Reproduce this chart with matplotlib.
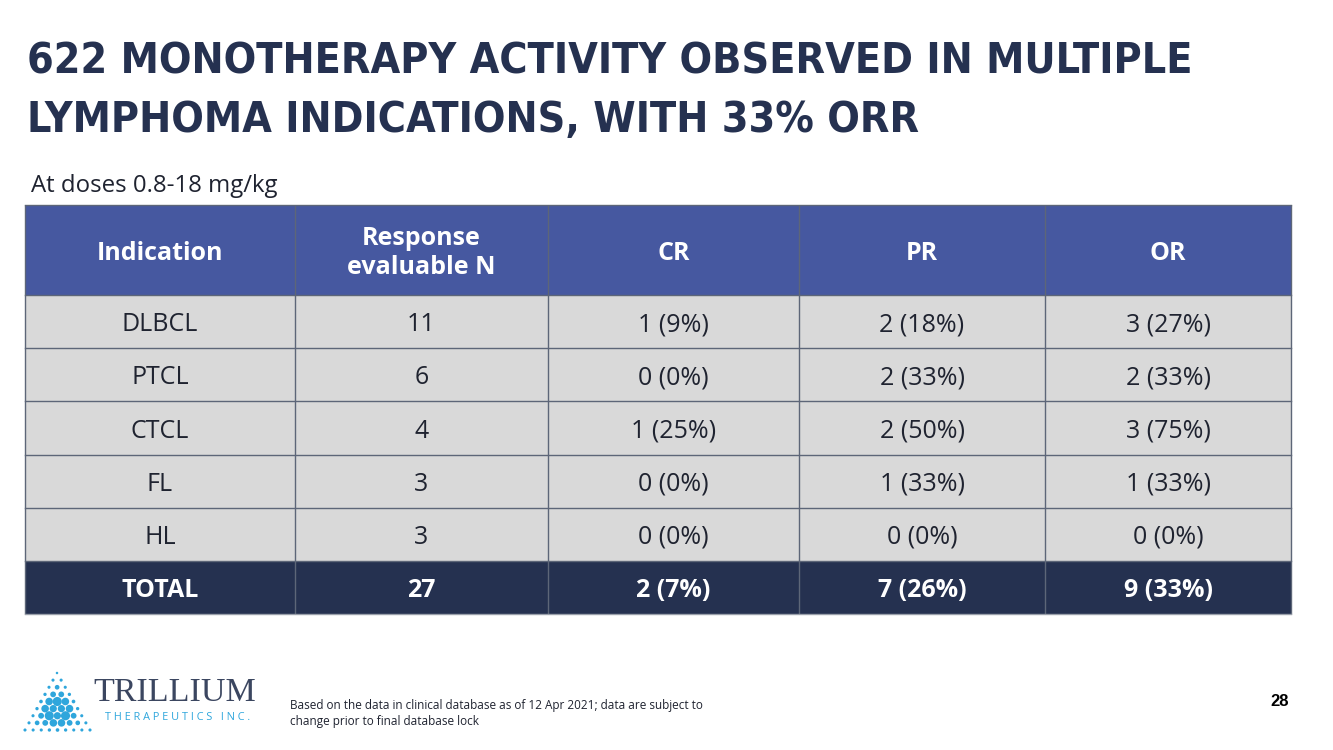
import matplotlib
matplotlib.use("Agg")
import matplotlib.pyplot as plt
from matplotlib.patches import Rectangle
import numpy as np

# ---- data ----
columns = ["Indication", "Response\nevaluable N", "CR", "PR", "OR"]
indications = ["DLBCL", "PTCL", "CTCL", "FL", "HL"]
n_eval = [11, 6, 4, 3, 3]
cr_vals = ["1 (9%)", "0 (0%)", "1 (25%)", "0 (0%)", "0 (0%)"]
pr_vals = ["2 (18%)", "2 (33%)", "2 (50%)", "1 (33%)", "0 (0%)"]
or_vals = ["3 (27%)", "2 (33%)", "3 (75%)", "1 (33%)", "0 (0%)"]
total_row = ["TOTAL", "27", "2 (7%)", "7 (26%)", "9 (33%)"]

title_lines = ["622 MONOTHERAPY ACTIVITY OBSERVED IN MULTIPLE",
               "LYMPHOMA INDICATIONS, WITH 33% ORR"]
subtitle = "At doses 0.8-18 mg/kg"
footnote = ("Based on the data in clinical database as of 12 Apr 2021; data are subject to\n"
            "change prior to final database lock")
page_no = "28"

# ---- style ----
NAVY = "#253150"
HEADER_BLUE = "#4658A0"
ROW_GREY = "#D9D9D9"
LINE = "#5d6678"
TEXT = "#1f2330"
CYAN = "#2fa6dc"
BODY_FONT = ["Open Sans", "DejaVu Sans"]
CELL_FS = 18

W, H = 1333, 750
fig = plt.figure(figsize=(W / 100, H / 100), dpi=100)
ax = fig.add_axes([0, 0, 1, 1])
ax.set_xlim(0, W)
ax.set_ylim(H, 0)
ax.axis("off")

# title
title_y = [62, 120]
for t, y in zip(title_lines, title_y):
    ax.text(27, y, t, fontsize=30.8, fontweight="heavy", color=NAVY,
            family=["DejaVu Sans"], fontstretch="condensed", va="center", ha="left")

ax.text(31, 186, subtitle, fontsize=17.3, color=TEXT, family=BODY_FONT, va="center", ha="left")

# table
col_edges = [25, 295, 548, 799, 1045, 1291]
header_top, header_bot = 205, 295
row_h = 53.2
rows = [[ind, str(n), c, p, o] for ind, n, c, p, o in zip(indications, n_eval, cr_vals, pr_vals, or_vals)]

# header
ax.add_patch(Rectangle((col_edges[0], header_top), col_edges[-1] - col_edges[0],
                       header_bot - header_top, facecolor=HEADER_BLUE, edgecolor="none"))
for j, lab in enumerate(columns):
    cx = (col_edges[j] + col_edges[j + 1]) / 2
    ax.text(cx, (header_top + header_bot) / 2 + 3, lab, fontsize=CELL_FS, fontweight="bold",
            color="white", family=BODY_FONT, ha="center", va="center", linespacing=1.22)

# body rows
y = header_bot
for r in rows:
    ax.add_patch(Rectangle((col_edges[0], y), col_edges[-1] - col_edges[0], row_h,
                           facecolor=ROW_GREY, edgecolor="none"))
    for j, val in enumerate(r):
        cx = (col_edges[j] + col_edges[j + 1]) / 2
        ax.text(cx, y + row_h / 2 + 3, val, fontsize=CELL_FS, color=TEXT, family=BODY_FONT,
                ha="center", va="center")
    y += row_h

# total row
ax.add_patch(Rectangle((col_edges[0], y), col_edges[-1] - col_edges[0], row_h,
                       facecolor=NAVY, edgecolor="none"))
for j, val in enumerate(total_row):
    cx = (col_edges[j] + col_edges[j + 1]) / 2
    ax.text(cx, y + row_h / 2 + 3, val, fontsize=CELL_FS, fontweight="bold", color="white",
            family=BODY_FONT, ha="center", va="center")
table_bot = y + row_h

# grid lines
for j, xe in enumerate(col_edges):
    ax.plot([xe, xe], [header_top, table_bot], color=LINE, lw=1, solid_capstyle="butt")
ax.plot([col_edges[0], col_edges[-1]], [header_top, header_top], color=LINE, lw=1)
yy = header_bot
for k in range(len(rows) + 1):
    ax.plot([col_edges[0], col_edges[-1]], [yy, yy], color=LINE, lw=1)
    yy += row_h
ax.plot([col_edges[0], col_edges[-1]], [table_bot, table_bot], color="#9aa0ab", lw=1)

# logo (decorative dotted triangle)
apex = np.array([57.0, 673.0])
left = np.array([25.0, 730.0])
right = np.array([90.0, 730.0])
centroid = (apex + left + right) / 3
nrow = 8
px, py, ps = [], [], []
for i in range(nrow + 1):
    for k in range(i + 1):
        u = i / nrow
        v = (k / i) if i > 0 else 0.5
        p = apex + u * ((left + v * (right - left)) - apex)
        d = np.linalg.norm(p - centroid)
        edge = min(u, 1 - u + 0.05, v * u + 0.05, (1 - v) * u + 0.05)
        size = 2.0 + 10 * min(edge, 0.3) + 2.5 * np.exp(-((d - 11) / 6) ** 2)
        if d < 3:
            continue
        px.append(p[0]); py.append(p[1]); ps.append(size)
ax.scatter(px, py, s=np.array(ps) ** 2 * 0.8, color=CYAN, linewidths=0)
ax.text(93, 693, "TRILLIUM", fontsize=24.5, color="#3b4660",
        family=["Liberation Serif", "DejaVu Serif"], va="center", ha="left")
ax.text(105, 718, "T H E R A P E U T I C S   I N C .", fontsize=7.8, color=CYAN,
        family=BODY_FONT, va="center", ha="left")

# footnote and page number
ax.text(290, 713, footnote, fontsize=8.5, color=TEXT, family=BODY_FONT, va="center",
        ha="left", linespacing=1.3)
ax.text(1289, 702, page_no, fontsize=12, fontweight="bold", color="black",
        family=["Liberation Sans", "DejaVu Sans"], va="center", ha="right")

fig.savefig("out.png", dpi=100, facecolor="white")
